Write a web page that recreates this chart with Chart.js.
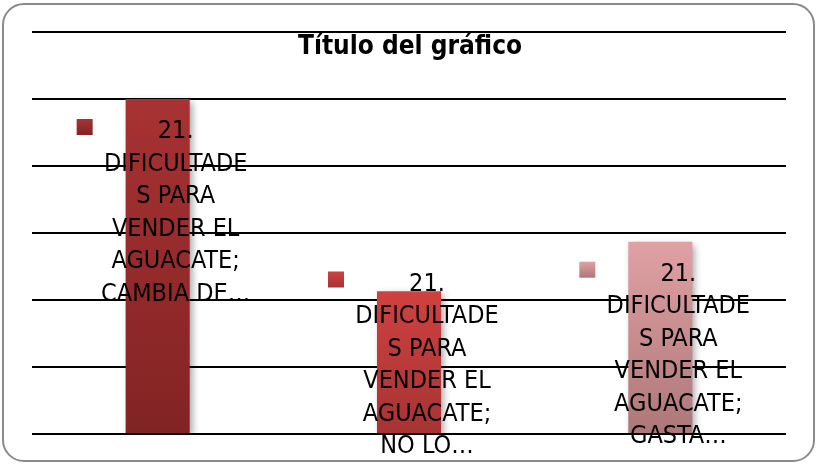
<!DOCTYPE html>
<html>
<head>
<meta charset="utf-8">
<script src="https://cdn.jsdelivr.net/npm/chart.js@4/dist/chart.umd.min.js"></script>
<style>
  html, body { margin: 0; padding: 0; background: #ffffff; }
  #wrap { position: relative; width: 817px; height: 464px; }
  #frame { position: absolute; left: 2px; top: 3px; width: 813px; height: 459px; box-sizing: border-box;
           border: 2px solid #8a8a8a; border-radius: 22px; pointer-events: none; }
</style>
</head>
<body>
<div id="wrap">
  <canvas id="c" width="817" height="464"></canvas>
  <div id="frame"></div>
</div>
<script>
const chartTitle = "Título del gráfico";
const seriesName = "21. DIFICULTADES PARA VENDER EL AGUACATE";
const seriesLabelLines = ["21.", "DIFICULTADE", "S PARA", "VENDER EL", "AGUACATE;"];
const categories = ["CAMBIA DE…", "NO LO…", "GASTA…"];
const values = [0.5, 0.213, 0.287];
const yTicks = [0, 0.1, 0.2, 0.3, 0.4, 0.5, 0.6];
const topColors = ["#a83232", "#d04141", "#e0a1a5"];
const bottomColors = ["#822323", "#a63333", "#ad7777"];

const FONT = '"Liberation Sans Narrow", "DejaVu Sans Condensed", "Liberation Sans", sans-serif';

function barGradient(ctx2d, i, top, bottom) {
  const g = ctx2d.createLinearGradient(0, top, 0, bottom);
  g.addColorStop(0, topColors[i]);
  g.addColorStop(1, bottomColors[i]);
  return g;
}

const shadowPlugin = {
  id: 'shadow',
  beforeDatasetDraw(chart) {
    const c = chart.ctx;
    c.save();
    c.shadowColor = 'rgba(0,0,0,0.35)';
    c.shadowBlur = 7;
    c.shadowOffsetX = 3;
    c.shadowOffsetY = 3;
  },
  afterDatasetDraw(chart) { chart.ctx.restore(); }
};

const labelPlugin = {
  id: 'labels',
  afterDatasetsDraw(chart) {
    const c = chart.ctx;
    const area = chart.chartArea;
    const meta = chart.getDatasetMeta(0);
    const step = 32.5;
    c.save();
    c.font = '25px ' + FONT;
    c.fillStyle = '#000';
    c.textAlign = 'center';
    c.textBaseline = 'alphabetic';
    meta.data.forEach((bar, i) => {
      const lines = seriesLabelLines.concat([categories[i]]);
      let first = bar.y + 30;
      const last = first + (lines.length - 1) * step;
      const limit = area.bottom + 10;
      if (last > limit) first -= (last - limit);
      const kx = bar.x - 81, ky = first - 10;
      c.fillStyle = barGradient(c, i, ky, ky + 16);
      c.fillRect(kx, ky, 16, 16);
      c.fillStyle = '#000';
      lines.forEach((t, j) => {
        c.fillText(t, bar.x + 18, first + j * step + 9);
      });
    });
    c.restore();
  }
};

const titlePlugin = {
  id: 'customTitle',
  afterDraw(chart) {
    const c = chart.ctx;
    const area = chart.chartArea;
    c.save();
    c.font = 'bold 26px ' + FONT;
    c.fillStyle = '#000';
    c.textAlign = 'center';
    c.textBaseline = 'alphabetic';
    c.fillText(chartTitle, (area.left + area.right) / 2 + 1, area.top + 22);
    c.restore();
  }
};

new Chart(document.getElementById('c'), {
  type: 'bar',
  data: {
    labels: categories,
    datasets: [{
      label: seriesName,
      data: values,
      backgroundColor: (ctx) => {
        const chart = ctx.chart;
        if (!chart.chartArea || ctx.dataIndex === undefined) return topColors[ctx.dataIndex || 0];
        const y = chart.scales.y;
        return barGradient(chart.ctx, ctx.dataIndex, y.getPixelForValue(values[ctx.dataIndex]), y.getPixelForValue(0));
      },
      borderWidth: 0,
      barPercentage: 0.255,
      categoryPercentage: 1
    }]
  },
  options: {
    responsive: false,
    animation: false,
    layout: { padding: { left: 32, right: 31, top: 32, bottom: 30 } },
    plugins: { legend: { display: false }, title: { display: false }, tooltip: { enabled: false } },
    scales: {
      x: { display: true, grid: { display: false, drawTicks: false }, border: { display: false }, ticks: { display: false } },
      y: {
        min: yTicks[0], max: yTicks[yTicks.length - 1],
        afterBuildTicks: (axis) => { axis.ticks = yTicks.map(v => ({ value: v })); },
        grid: { color: '#000', lineWidth: 2, drawTicks: false },
        border: { display: false },
        ticks: { display: false }
      }
    }
  },
  plugins: [shadowPlugin, labelPlugin, titlePlugin]
});
</script>
</body>
</html>
